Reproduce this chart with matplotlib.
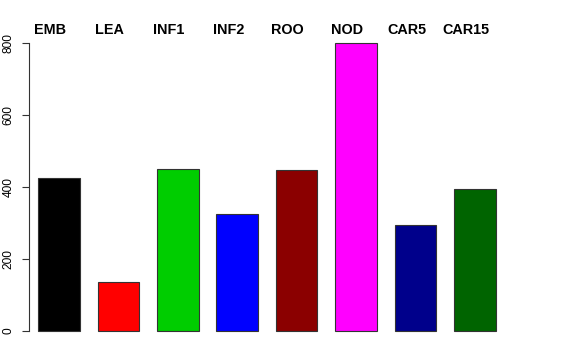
import matplotlib.pyplot as plt
import matplotlib.transforms as mtransforms
import numpy as np

labels = ['EMB', 'LEA', 'INF1', 'INF2', 'ROO', 'NOD', 'CAR5', 'CAR15']
values = [424, 137, 450, 324, 447, 800, 294, 394]
colors = ['#000000', '#FF0000', '#00CD00', '#0000FF', '#8B0000', '#FF00FF', '#00008B', '#006400']
yticks = [0, 200, 400, 600, 800]

plt.rcParams['font.family'] = ['Liberation Sans', 'DejaVu Sans']

fig = plt.figure(figsize=(5.76, 3.6), dpi=100)
# plot region placed like R's default barplot region
ax = fig.add_axes([29 / 576, 17.5 / 360, 474 / 576, 311 / 360])

x = np.arange(len(values))
ax.bar(x, values, width=0.7, color=colors, edgecolor='#333333', linewidth=0.8)

ax.set_xlim(-0.505, 7.475)
ax.set_ylim(-32, 832)

for s in ['top', 'right', 'bottom']:
    ax.spines[s].set_visible(False)
ax.spines['left'].set_bounds(0, 800)
ax.spines['left'].set_color('#333333')
ax.set_xticks([])
ax.set_yticks(yticks)
ax.set_yticklabels([str(v) for v in yticks], rotation=90, va='center', fontsize=8.6)
ax.tick_params(axis='y', length=5.2, pad=5, color='#333333')

trans = mtransforms.blended_transform_factory(ax.transData, ax.transAxes)
for xi, lab in zip(x, labels):
    ax.text(xi - 0.15, 0.992, lab, transform=trans, ha='center', va='baseline',
            fontsize=10.4, fontweight='bold')

plt.savefig('out.png', dpi=100)
